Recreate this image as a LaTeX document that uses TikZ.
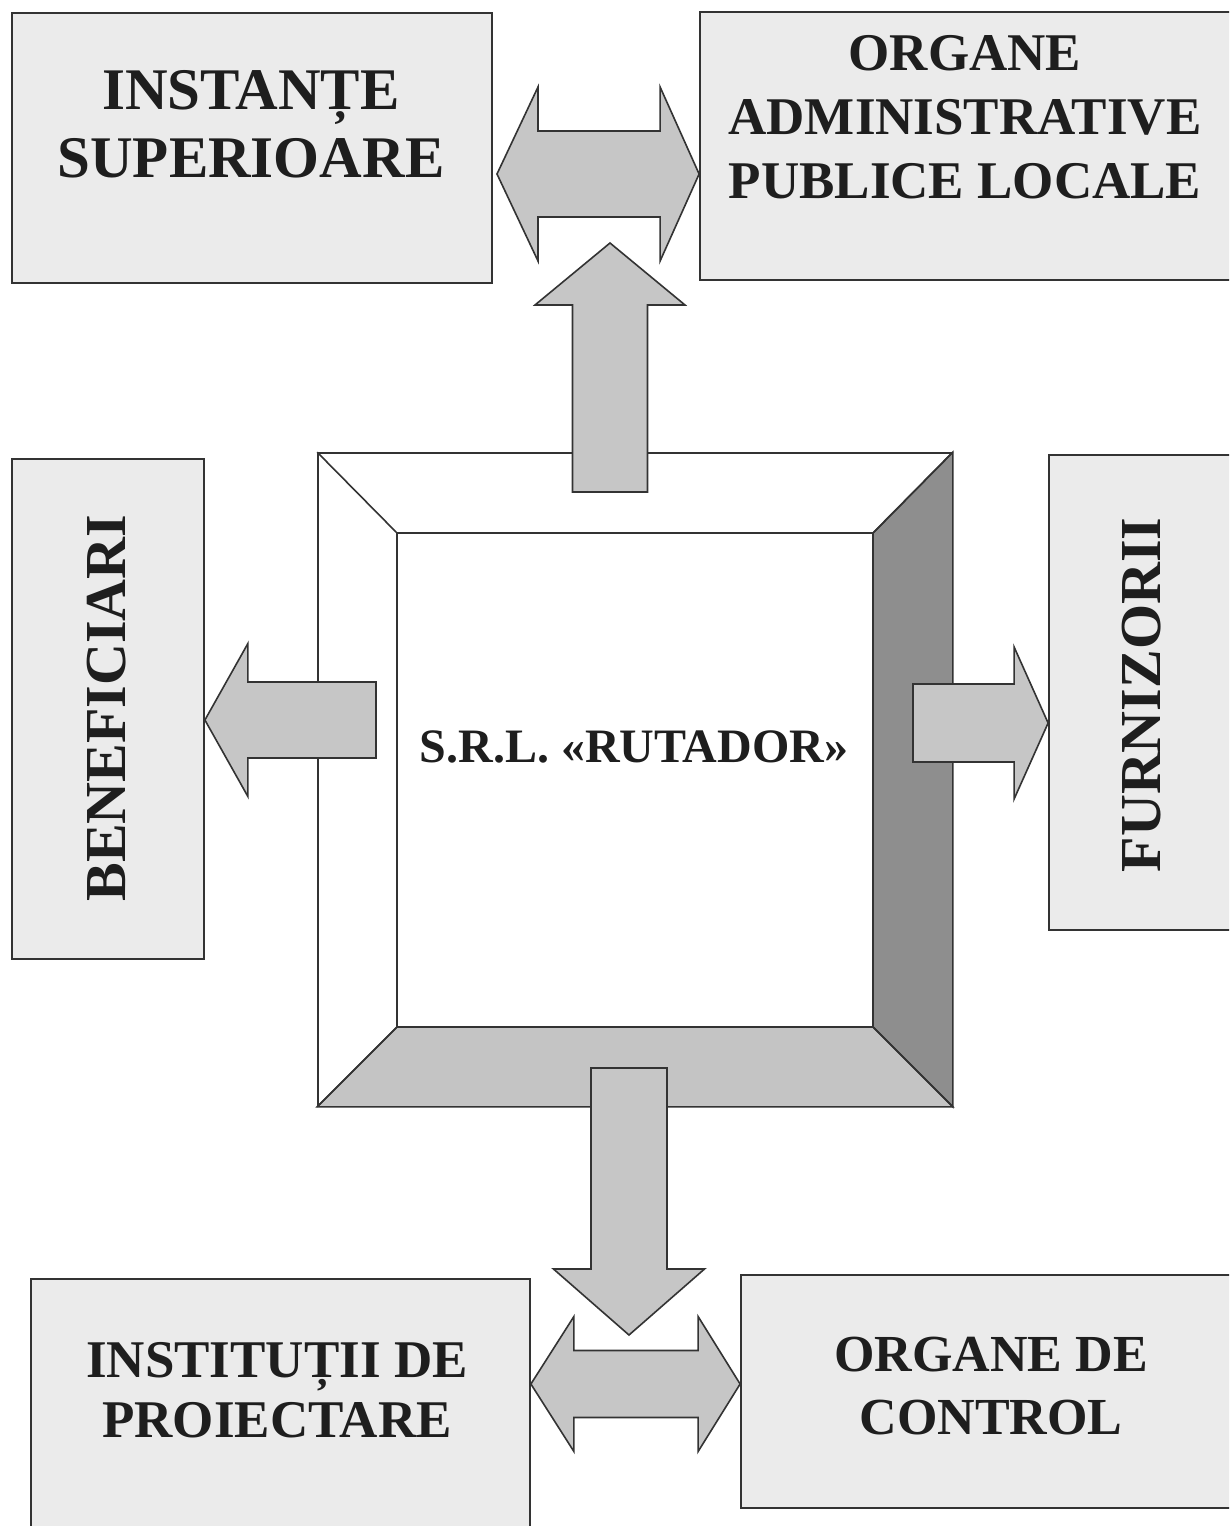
\documentclass[tikz,border=0pt]{standalone}
\usepackage{fontspec}
\setmainfont{Liberation Serif}
\usetikzlibrary{calc}
\definecolor{linec}{HTML}{333333}
\definecolor{boxfill}{HTML}{EBEBEB}
\definecolor{arrowfill}{HTML}{C6C6C6}
\definecolor{bevdark}{HTML}{8E8E8E}
\definecolor{bevmid}{HTML}{C4C4C4}
\definecolor{txt}{HTML}{1E1E1E}
\tikzset{
  box/.style={draw=linec, line width=1.8pt, fill=boxfill, inner sep=0pt},
  lbl/.style={text=txt, align=center, inner sep=0pt},
  barrow/.style={draw=linec, line width=1.6pt, fill=arrowfill, line join=miter},
  frameline/.style={draw=linec, line width=1.6pt},
}
% single block arrow: #1 tail, #2 tip, #3 shaft half width, #4 head half width, #5 head length
\newcommand\blockarrow[5]{%
  \coordinate (ba-h) at ($(#2)!#5!(#1)$);
  \filldraw[barrow] ($(#1)!#3!90:(#2)$) -- ($(ba-h)!#3!90:(#2)$) -- ($(ba-h)!#4!90:(#2)$)
    -- (#2) -- ($(ba-h)!#4!-90:(#2)$) -- ($(ba-h)!#3!-90:(#2)$) -- ($(#1)!#3!-90:(#2)$) -- cycle;}
% double block arrow: #1 tip A, #2 tip B, #3 shaft half, #4 head half, #5 head len A, #6 head len B
\newcommand\dblarrow[6]{%
  \coordinate (da-a) at ($(#1)!#5!(#2)$);
  \coordinate (da-b) at ($(#2)!#6!(#1)$);
  \filldraw[barrow] (#1) -- ($(da-a)!#4!90:(#2)$) -- ($(da-a)!#3!90:(#2)$)
    -- ($(da-b)!#3!-90:(#1)$) -- ($(da-b)!#4!-90:(#1)$) -- (#2)
    -- ($(da-b)!#4!90:(#1)$) -- ($(da-b)!#3!90:(#1)$)
    -- ($(da-a)!#3!-90:(#2)$) -- ($(da-a)!#4!-90:(#2)$) -- cycle;}
\begin{document}
\begin{tikzpicture}[x=1pt,y=-1pt]
\clip (0,0) rectangle (1229,1526);
\fill[white] (0,0) rectangle (1229,1526);

% outer boxes
\node[box, minimum width=480, minimum height=270] (inst) at (252,148) {};
\node[box, minimum width=540, minimum height=268] (org) at (970,146) {};
\node[box, minimum width=192, minimum height=500] (benef) at (108,709) {};
\node[box, minimum width=191, minimum height=475] (furn) at (1144.5,692.5) {};
\node[box, minimum width=499, minimum height=261] (instit) at (280.5,1409.5) {};
\node[box, minimum width=499, minimum height=233] (ctrl) at (990.5,1391.5) {};

% labels
\node[lbl, font=\fontsize{59}{68}\selectfont\bfseries] (instT) at (251,124) {INSTANȚE\\SUPERIOARE};
\node[lbl, font=\fontsize{53}{64}\selectfont\bfseries] (orgT) at (965,117.5) {ORGANE\\ADMINISTRATIVE\\PUBLICE LOCALE};
\node[lbl, font=\fontsize{58}{66}\selectfont\bfseries, rotate=90] (benefT) at (107,708) {BENEFICIARI};
\node[lbl, font=\fontsize{58}{66}\selectfont\bfseries, rotate=90] (furnT) at (1142,695) {FURNIZORII};
\node[lbl, font=\fontsize{53}{60}\selectfont\bfseries] (institT) at (277,1390.5) {INSTITUȚII DE\\PROIECTARE};
\node[lbl, font=\fontsize{52}{63}\selectfont\bfseries] (ctrlT) at (991,1386.5) {ORGANE DE\\CONTROL};

% central bevelled frame
\node[frameline, fill=white, minimum width=634, minimum height=653, inner sep=0pt] (frame) at (635,779.5) {};
\filldraw[frameline, fill=bevdark] (frame.north east) -- (frame.south east) -- (873,1027) -- (873,533) -- cycle;
\filldraw[frameline, fill=bevmid] (frame.south west) -- (frame.south east) -- (873,1027) -- (397,1027) -- cycle;
\node[frameline, fill=white, minimum width=476, minimum height=494, inner sep=0pt] (core) at (635,780) {};
\draw[frameline] (frame.north west) -- (core.north west);
\draw[frameline] (frame.north east) -- (core.north east);
\draw[frameline] (frame.south west) -- (core.south west);
\draw[frameline] (frame.south east) -- (core.south east);
\node[lbl, font=\fontsize{48}{56}\selectfont\bfseries] (coreT) at (634,747) {S.R.L. «RUTADOR»};

% arrows
\coordinate (t1) at (497,174);
\coordinate (t2) at (org.west |- 0,174);
\dblarrow{t1}{t2}{43pt}{87pt}{41pt}{39pt}

\coordinate (u1) at (610,492);
\coordinate (u2) at (610,243);
\blockarrow{u1}{u2}{37.5pt}{75pt}{62pt}

\coordinate (l1) at (376,720);
\coordinate (l2) at (benef.east |- 0,720);
\blockarrow{l1}{l2}{38pt}{76.5pt}{43pt}

\coordinate (r1) at (913,723);
\coordinate (r2) at (furn.west |- 0,723);
\blockarrow{r1}{r2}{39pt}{76pt}{34pt}

\coordinate (d1) at (629,1068);
\coordinate (d2) at (629,1335);
\blockarrow{d1}{d2}{38pt}{75.5pt}{66pt}

\coordinate (b1) at (instit.east |- 0,1384);
\coordinate (b2) at (ctrl.west |- 0,1384);
\dblarrow{b1}{b2}{33.5pt}{67.5pt}{43pt}{42pt}
\end{tikzpicture}
\end{document}
